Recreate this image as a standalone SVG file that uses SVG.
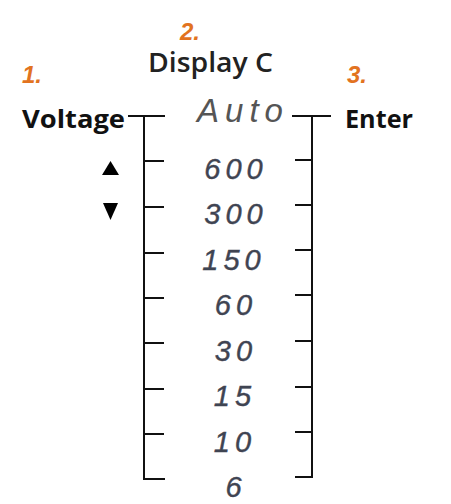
<svg xmlns="http://www.w3.org/2000/svg" width="451" height="504" viewBox="0 0 451 504">
<style>
.num{font-family:"Liberation Sans",Arial,sans-serif;font-style:italic;font-weight:bold;font-size:24px;fill:#e2731f}
.lbl{font-family:"Open Sans","Liberation Sans",sans-serif;font-weight:bold;font-size:25px;fill:#111}
.title{font-family:"Open Sans","Liberation Sans",sans-serif;font-weight:600;font-size:27px;fill:#222}
.seg{font-family:"Liberation Sans",Arial,sans-serif;font-style:italic;font-size:29px;fill:#3f4452;stroke:#3f4452;stroke-width:0.4;letter-spacing:5px;text-anchor:middle}
.auto{font-family:"Liberation Sans",Arial,sans-serif;font-style:italic;font-size:33px;fill:#555;letter-spacing:6px;text-anchor:middle}
.ln{stroke:#111;stroke-width:2;fill:none}
</style>
<rect width="451" height="504" fill="#fff"/>
<g id="step1"><text class="num" x="22" y="83">1.</text></g>
<g id="step2"><text class="num" x="180" y="40">2.</text></g>
<g id="step3"><text class="num" x="347" y="83">3.</text></g>
<g id="display"><text class="title" x="148" y="72" textLength="125" lengthAdjust="spacingAndGlyphs">Display C</text></g>
<g id="voltage"><text class="lbl" x="22" y="128" textLength="103" lengthAdjust="spacingAndGlyphs">Voltage</text></g>
<g id="enter"><text class="lbl" x="345" y="128" textLength="68" lengthAdjust="spacingAndGlyphs">Enter</text></g>
<g id="arrows">
<polygon points="102,175 119,175 110.5,161" fill="#000"/>
<polygon points="103,203 118,203 110.5,220" fill="#000"/>
</g>
<g id="auto"><text class="auto" x="243" y="122">Auto</text></g>
<g id="r600"><text class="seg" x="236" y="179">600</text></g>
<g id="r300"><text class="seg" x="236" y="224">300</text></g>
<g id="r150"><text class="seg" x="234" y="270">150</text></g>
<g id="r60"><text class="seg" x="236" y="315">60</text></g>
<g id="r30"><text class="seg" x="236" y="361">30</text></g>
<g id="r15"><text class="seg" x="235" y="406">15</text></g>
<g id="r10"><text class="seg" x="235" y="452">10</text></g>
<g id="r6"><text class="seg" x="236" y="497">6</text></g>
<g id="connectors" class="ln">
<path d="M128,116H165M144,116V479H165"/>
<path d="M144,161H164M144,207H164M144,253H164M144,298H164M144,343H164M144,389H164M144,434H164"/>
<path d="M292,116H331M312,116V477H295"/>
<path d="M295,160H312M295,205H312M295,250H312M295,295H312M295,341H312M295,387H312M295,432H312"/>
</g>
</svg>
